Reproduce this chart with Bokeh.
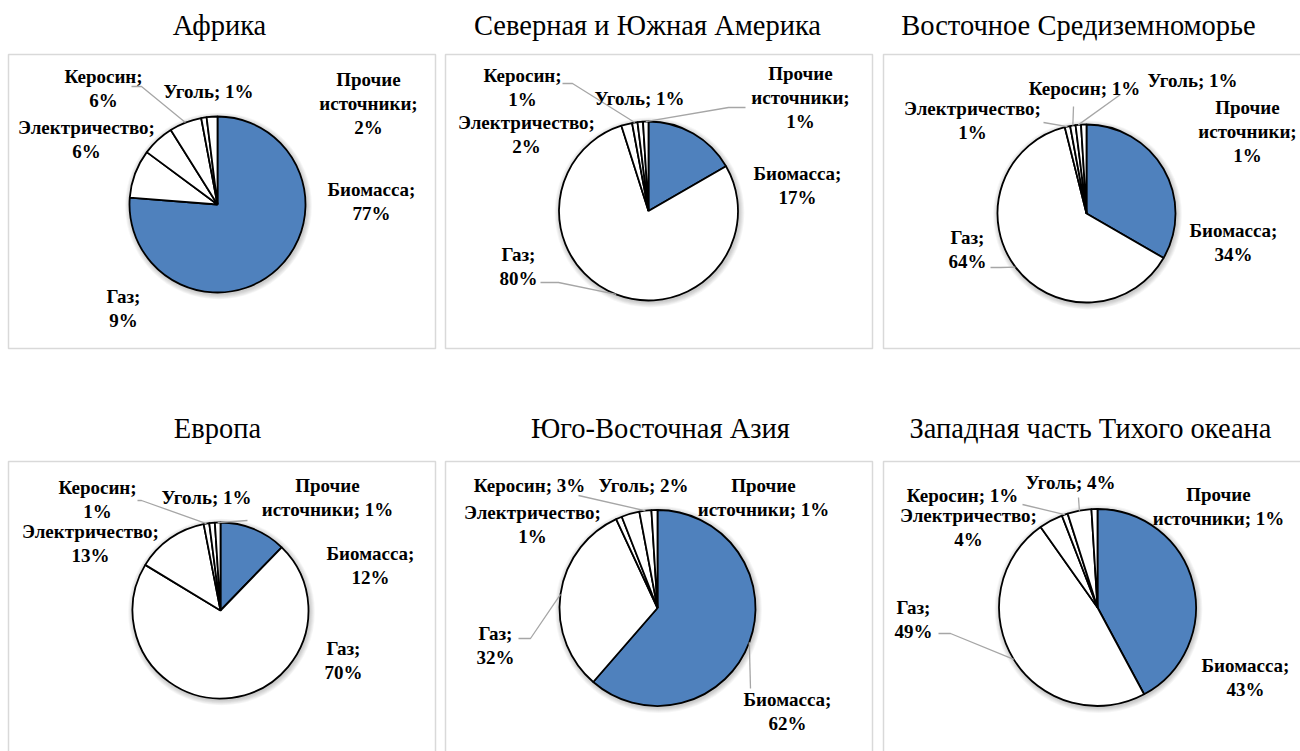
import math
from bokeh.plotting import figure
from bokeh.models import Range1d, ColumnDataSource
from bokeh.core.properties import value
from bokeh.embed import file_html
from bokeh.resources import INLINE

# ---------------- data ----------------
categories = ["Биомасса", "Газ", "Электричество", "Керосин", "Уголь", "Прочие источники"]
regions = ["Африка", "Северная и Южная Америка", "Восточное Средиземноморье",
           "Европа", "Юго-Восточная Азия", "Западная часть Тихого океана"]
africa    = [77, 9, 6, 6, 1, 2]
americas  = [17, 80, 2, 1, 1, 1]
east_med  = [34, 64, 1, 1, 1, 1]
europe    = [12, 70, 13, 1, 1, 1]
se_asia   = [62, 32, 1, 3, 2, 1]
w_pacific = [43, 49, 4, 1, 4, 1]
series = [africa, americas, east_med, europe, se_asia, w_pacific]
slice_colors = ["#4F81BD", "#FFFFFF", "#FFFFFF", "#FFFFFF", "#FFFFFF", "#FFFFFF"]

# ---------------- layout (screen pixels) ----------------
# label: (center x, center y, line mode)
layout = [
    dict(c=(217, 204), r=88, box=(8, 54, 435, 348), t=(219, 25),
         labels={"Биомасса": (371, 201, 2), "Газ": (123, 308, 2), "Электричество": (86, 139, 2),
                 "Керосин": (103, 88, 2), "Уголь": (208, 91, 1), "Прочие источники": (368, 103, 3)},
         leaders=[("Керосин", [(131, 86), (141, 86)])]),
    dict(c=(648, 210.5), r=89.5, box=(445, 54, 872, 348), t=(647, 25),
         labels={"Биомасса": (797, 185, 2), "Газ": (518, 266, 2), "Электричество": (526, 134, 2),
                 "Керосин": (522, 87, 2), "Уголь": (639, 98, 1), "Прочие источники": (800, 97, 3)},
         leaders=[("Керосин", [(562, 83), (572, 83)]),
                  ("Прочие источники", [(745, 107), (728, 107)]),
                  ("Газ", [(540, 282), (558, 282)])]),
    dict(c=(1086, 213), r=89, box=(883, 54, 1320, 348), t=(1078, 25),
         labels={"Биомасса": (1233, 242, 2), "Газ": (967, 249, 2), "Электричество": (972, 120, 2),
                 "Керосин": (1084, 88, 1), "Уголь": (1192, 80, 1), "Прочие источники": (1247, 131, 3)},
         leaders=[("Электричество", [(1043, 122)]),
                  ("Керосин", [(1073, 106)]),
                  ("Уголь", [(1120, 94)]),
                  ("Газ", [(990, 267), (1000, 267)])]),
    dict(c=(220, 610), r=88, box=(8, 461, 435, 770), t=(217, 428),
         labels={"Биомасса": (370, 565, 2), "Газ": (343, 660, 2), "Электричество": (90, 543, 2),
                 "Керосин": (97, 499, 2), "Уголь": (206, 497, 1), "Прочие источники": (327, 497, 2)},
         leaders=[("Керосин", [(137, 500), (141, 500)]),
                  ("Прочие источники", [(247, 520)])]),
    dict(c=(657, 607.5), r=98, box=(445, 461, 872, 770), t=(660, 428),
         labels={"Биомасса": (787, 711, 2), "Газ": (495, 645, 2), "Электричество": (532, 524, 2),
                 "Керосин": (529, 485, 1), "Уголь": (643, 485, 1), "Прочие источники": (763, 497, 2)},
         leaders=[("Уголь", [(578, 495)]),
                  ("Газ", [(518, 638), (530, 638)]),
                  ("Биомасса", [(750, 688)])]),
    dict(c=(1097, 607), r=98.5, box=(883, 461, 1320, 770), t=(1090, 428),
         labels={"Биомасса": (1245, 677, 2), "Газ": (913, 619, 2), "Электричество": (968, 527, 2),
                 "Керосин": (962, 495, 1), "Уголь": (1070, 482, 1), "Прочие источники": (1218, 506, 2)},
         leaders=[("Керосин", [(1022, 504)]),
                  ("Уголь", [(1078, 497)]),
                  ("Газ", [(938, 633), (950, 633)])]),
]

W, H = 1300, 751
def Y(sy):
    return 751 - sy

def label_text(cat, v, mode):
    if cat == "Прочие источники":
        return "Прочие\nисточники;" + ("\n" if mode == 3 else " ") + f"{v}%"
    return f"{cat};" + ("\n" if mode == 2 else " ") + f"{v}%"

p = figure(width=W, height=H, x_range=Range1d(0, W), y_range=Range1d(751 - H, 751),
           output_backend="svg", toolbar_location=None, min_border=0,
           x_axis_type=None, y_axis_type=None)
p.grid.visible = False
p.outline_line_color = None
p.background_fill_color = "white"
p.border_fill_color = "white"

SERIF = value("Liberation Serif")

for region, vals, lay in zip(regions, series, layout):
    cx, cy = lay["c"][0], Y(lay["c"][1])
    r = lay["r"]
    bx0, by0, bx1, by1 = lay["box"]
    # panel border
    p.quad(left=[bx0], right=[bx1], top=[Y(by0)], bottom=[Y(by1)],
           fill_color=None, line_color="#D9D9D9", line_width=1.5)
    # title
    p.text(x=[lay["t"][0]], y=[Y(lay["t"][1])], text=[region], text_font=SERIF,
           text_font_size="28.5px", text_align="center", text_baseline="middle", text_color="black")
    # soft shadow
    for k in range(6, 0, -1):
        p.circle(x=[cx + 1], y=[cy - 1.5], radius=r + k * 0.9, fill_color="black",
                 fill_alpha=0.035, line_color=None)
    # wedges: start at 12 o'clock, clockwise
    total = float(sum(vals))
    cum = 0.0
    starts, ends, mids = [], [], {}
    for cat, v in zip(categories, vals):
        a0 = math.pi / 2 - 2 * math.pi * (cum + v) / total
        a1 = math.pi / 2 - 2 * math.pi * cum / total
        starts.append(a0)
        ends.append(a1)
        mids[cat] = (a0 + a1) / 2
        cum += v
    src = ColumnDataSource(dict(x=[cx] * len(vals), y=[cy] * len(vals), start=starts, end=ends,
                                color=slice_colors, cat=categories, val=vals))
    p.wedge(x="x", y="y", radius=r, start_angle="start", end_angle="end", fill_color="color",
            line_color="black", line_width=1.8, source=src)
    # leader lines
    xs, ys = [], []
    for cat, pts in lay["leaders"]:
        a = mids[cat]
        lx = [pt[0] for pt in pts] + [cx + r * math.cos(a)]
        ly = [Y(pt[1]) for pt in pts] + [cy + r * math.sin(a)]
        xs.append(lx)
        ys.append(ly)
    if xs:
        p.multi_line(xs=xs, ys=ys, line_color="#A6A6A6", line_width=1.3)
    # data labels
    tx, ty, tt = [], [], []
    for cat, v in zip(categories, vals):
        lx, ly, mode = lay["labels"][cat]
        tx.append(lx)
        ty.append(Y(ly))
        tt.append(label_text(cat, v, mode))
    p.text(x=tx, y=ty, text=tt, text_font=SERIF, text_font_style="bold", text_font_size="19px",
           text_align="center", text_baseline="middle", text_color="black", text_line_height=1.15)

open("out.html", "w").write(file_html(p, INLINE))
